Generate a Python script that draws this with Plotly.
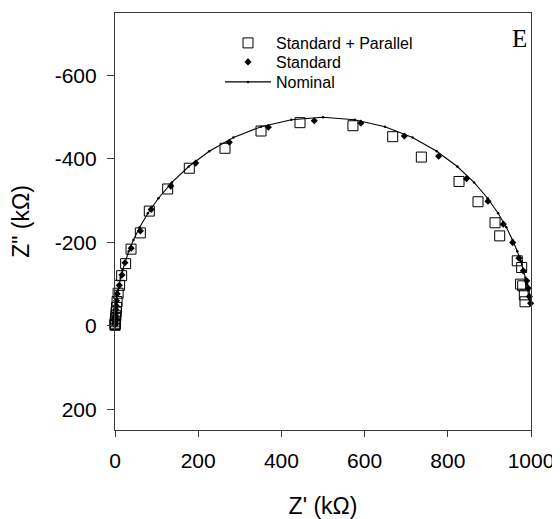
import plotly.graph_objects as go

# ---- data ----
x_ticks = [0, 200, 400, 600, 800, 1000]
x_ticktext = ["0", "200", "400", "600", "800", "1000"]
y_ticks = [-600, -400, -200, 0, 200]
y_ticktext = ["-600", "-400", "-200", "0", "200"]

nominal_x = [997.08, 996.03, 994.62, 992.70, 990.10, 986.59, 981.85, 975.50, 966.99, 955.64,
             940.65, 921.01, 895.59, 863.19, 822.75, 773.48, 715.25, 648.86, 576.15, 500.00,
             423.85, 351.14, 284.75, 226.52, 177.25, 136.81, 104.41, 78.99, 59.35, 44.36,
             33.01, 24.50, 18.15, 13.41, 9.90, 7.38, 5.38, 3.97, 2.92, 2.15,
             1.58, 1.16, 0.86, 0.63, 0.46, 0.34, 0.25, 0.18, 0.14, 0.10,
             0.07, 0.05, 0.04, 0.03, 0.02, 0.02, 0.01, 0.01, 0.01, 0.00]
nominal_y = [-53.96, -62.85, -73.16, -85.14, -99.01, -115.03, -133.47, -154.61, -178.68, -205.88,
             -236.28, -269.73, -305.80, -343.64, -381.89, -418.58, -451.29, -477.33, -494.16, -500.00,
             -494.16, -477.33, -451.29, -418.58, -381.89, -343.64, -305.80, -269.73, -236.28, -205.88,
             -178.68, -154.61, -133.47, -115.03, -99.01, -85.14, -73.16, -62.85, -53.96, -46.32,
             -39.75, -34.11, -29.26, -25.10, -21.53, -18.47, -15.85, -13.59, -11.66, -10.00,
             -8.58, -7.36, -6.31, -5.41, -4.64, -3.98, -3.41, -2.93, -2.51, -2.15]

standard_x = [999, 996, 993.5, 989.6, 981.5, 971, 956, 933.4, 896.6, 845,
              778, 695.5, 591, 479, 368.5, 274.8, 194, 134, 87, 61,
              39, 24, 16.8, 10.4, 5.2, 3.6, 2.7, 1.7, 1.1, 0.7,
              0.43, 0.27, 0.17, 0.11, 0.07, 0.04, 0.03, 0.02, 0.01, 0.01]
standard_y = [-54, -70, -90, -107.8, -131.7, -162, -199.5, -243.6, -298.6, -352.8,
              -406.4, -455, -486, -491.7, -476, -440, -390, -335, -279, -227.5,
              -186, -151, -122, -97, -76.6, -60, -48, -39, -31, -25,
              -20, -16, -12.8, -10.2, -8.1, -6.4, -5.1, -4.1, -3.2, -2.6]

parallel_x = [985.6, 984, 980, 975, 977.6, 967, 924.7, 913.5, 872.6, 827,
              736.4, 667.5, 572, 444.7, 351, 264.4, 178.6, 126.6, 82.5, 60.9,
              38.5, 25.6, 16, 11, 7.5, 5, 3.8, 2.8, 2, 1.3,
              0.8, 0.5, 0.3, 0.2]
parallel_y = [-57.5, -74, -95.8, -99.8, -139.6, -155.7, -215.5, -247, -297.4, -346,
              -404.5, -453.4, -479.7, -487, -467, -425.6, -377.7, -328, -275, -222.7,
              -183.7, -149, -120, -97, -78, -58, -44, -33, -24, -17,
              -11, -6, -3, -1]

AX = "#3a3a3a"
FONT = "Liberation Sans, Arial, sans-serif"

# page body has an 8px default margin; size the figure to fit the 560x519 window
W, H = 552, 511
ML, MR, MT, MB = 107, 29, 5, 89
PW, PH = W - ML - MR, H - MT - MB


def px_to_paper_x(px):
    return (px - 8 - ML) / PW


def py_to_paper_y(py):
    return 1 - (py - 8 - MT) / PH


fig = go.Figure()
fig.add_trace(go.Scatter(
    x=parallel_x, y=parallel_y, mode="markers", name="Standard + Parallel", legend="legend",
    marker=dict(symbol="square-open", size=10, color="black", line=dict(width=1, color="black")),
    cliponaxis=False))
fig.add_trace(go.Scatter(
    x=standard_x, y=standard_y, mode="markers", name="Standard", legend="legend2",
    marker=dict(symbol="diamond", size=5.5, color="black"), cliponaxis=False))
fig.add_trace(go.Scatter(
    x=nominal_x, y=nominal_y, mode="lines+markers", name="Nominal", legend="legend3",
    line=dict(color="black", width=1.1), marker=dict(symbol="circle", size=2.5, color="black"),
    cliponaxis=False))

fig.add_annotation(text="E", xref="paper", yref="paper",
                   x=px_to_paper_x(519.5), y=py_to_paper_y(38.5),
                   xanchor="center", yanchor="middle", showarrow=False,
                   font=dict(family="Liberation Serif, Times New Roman, serif", size=25, color="black"))

leg_common = dict(xanchor="left", yanchor="middle", bgcolor="rgba(0,0,0,0)",
                  font=dict(family=FONT, size=16, color="black"), itemwidth=46)
leg_x = px_to_paper_x(277 - 57)

fig.update_layout(
    width=W, height=H,
    margin=dict(l=ML, r=MR, t=MT, b=MB, autoexpand=False),
    paper_bgcolor="white", plot_bgcolor="white",
    font=dict(family=FONT, color="black"),
    showlegend=True,
    legend=dict(x=leg_x, y=py_to_paper_y(43), **leg_common),
    legend2=dict(x=leg_x, y=py_to_paper_y(62), **leg_common),
    legend3=dict(x=leg_x, y=py_to_paper_y(82), **leg_common),
    xaxis=dict(range=[0, 1000], tickvals=x_ticks, ticktext=x_ticktext, automargin=False,
               ticks="outside", ticklen=6, tickwidth=1, tickcolor=AX, ticklabelstandoff=6,
               showline=True, linecolor=AX, linewidth=1.2, mirror=True,
               showgrid=False, zeroline=False,
               tickfont=dict(family=FONT, size=21, color="black"),
               title=dict(text="Z' (kΩ)", font=dict(family=FONT, size=23, color="black"), standoff=29)),
    yaxis=dict(range=[250, -750], tickvals=y_ticks, ticktext=y_ticktext, automargin=False,
               ticks="outside", ticklen=7, tickwidth=1, tickcolor=AX, ticklabelstandoff=6,
               showline=True, linecolor=AX, linewidth=1.2, mirror=True,
               showgrid=False, zeroline=False,
               tickfont=dict(family=FONT, size=21, color="black"),
               title=dict(text='Z" (kΩ)', font=dict(family=FONT, size=23, color="black"), standoff=19)),
)

fig.write_html("out.html")
